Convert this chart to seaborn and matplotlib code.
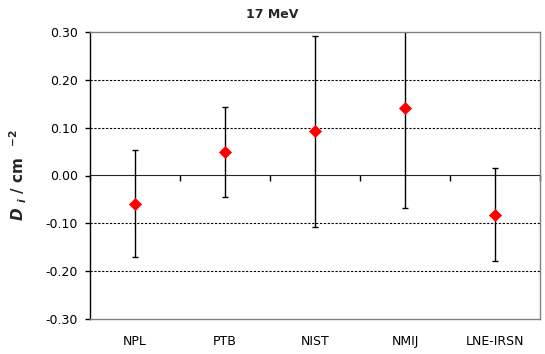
import matplotlib
matplotlib.use("Agg")
import matplotlib.pyplot as plt
import seaborn as sns
import pandas as pd

labs = ["NPL", "PTB", "NIST", "NMIJ", "LNE-IRSN"]
di = [-0.059, 0.049, 0.092, 0.142, -0.082]
unc = [0.112, 0.094, 0.199, 0.210, 0.097]
yticks = [-0.30, -0.20, -0.10, 0.00, 0.10, 0.20, 0.30]


def main():
    sns.set_style("white")
    plt.rcParams["font.family"] = ["DejaVu Sans"]
    plt.rcParams["ytick.left"] = True
    plt.rcParams["ytick.color"] = "black"

    df = pd.DataFrame({"lab": labs, "Di": di, "u": unc})

    fig = plt.figure(figsize=(5.45, 3.54), dpi=100)
    ax = fig.add_axes([90 / 545, 35 / 354, 450 / 545, 287 / 354])

    for y in [-0.2, -0.1, 0.1, 0.2]:
        ax.axhline(y, color="black", linestyle=(0, (2, 1.5)), linewidth=0.8, zorder=0)

    ax.errorbar(df["lab"], df["Di"], yerr=df["u"], fmt="none", ecolor="black",
                elinewidth=1.0, capsize=2.2, capthick=1.0, zorder=2)
    sns.scatterplot(data=df, x="lab", y="Di", ax=ax, marker="D", s=38,
                    color="red", edgecolor="red", linewidth=0.5, zorder=3)

    ax.set_xlim(-0.5, len(labs) - 0.5)
    ax.set_ylim(-0.30, 0.30)
    ax.set_yticks(yticks)
    ax.set_yticklabels([f"{v:.2f}" for v in yticks], fontsize=9)
    ax.tick_params(axis="y", left=True, length=3.5, width=1, direction="out",
                   pad=5, color="black", labelcolor="black")
    ax.tick_params(axis="x", bottom=False, labelsize=9, pad=8, labelcolor="black")
    for t in ax.yaxis.get_major_ticks():
        t.tick1line.set_visible(True)
        t.tick1line.set_markersize(3.5)
        t.tick1line.set_markeredgewidth(1)
        t.tick1line.set_color("black")
    ax.set_xlabel("")
    ax.set_ylabel(r"$\mathbfit{D}$ $_{\mathbfit{i}}$ / cm  $^{\mathbf{-2}}$",
                  fontsize=11, fontweight="bold", labelpad=12)

    for s in ["top", "right", "bottom"]:
        ax.spines[s].set_color("#808080")
        ax.spines[s].set_linewidth(1.0)
    ax.spines["left"].set_color("black")
    ax.spines["left"].set_linewidth(1.0)

    # zero line with category separator ticks
    sec = ax.secondary_xaxis(0.5)
    sec.set_xticks([i - 0.5 for i in range(len(labs) + 1)])
    sec.set_xticklabels([])
    sec.tick_params(axis="x", length=4, width=1, direction="in", color="black")
    sec.spines["bottom"].set_color("black")
    sec.spines["bottom"].set_linewidth(1.0)

    fig.text(0.5, 1 - 14 / 354, "17 MeV", ha="center", va="center",
             fontsize=9, fontweight="bold")

    fig.savefig("out.png", dpi=100, facecolor="white")


if __name__ == "__main__":
    main()
